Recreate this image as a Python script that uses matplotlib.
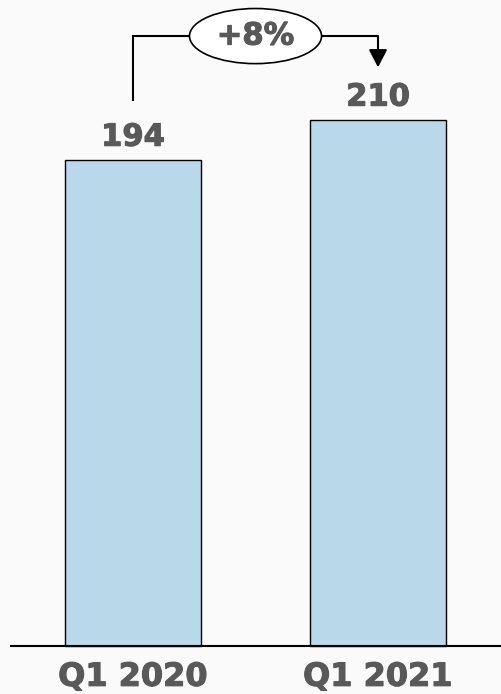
import matplotlib
matplotlib.use("Agg")
import matplotlib.pyplot as plt
import matplotlib.patheffects as pe
from matplotlib.patches import Ellipse

categories = ["Q1 2020", "Q1 2021"]
values = [194, 210]
change_label = "+8%"

BG = "#fafafa"
BAR = "#b9d8ea"
TXT = "#595959"
FONT = "DejaVu Sans"
HEAVY = [pe.withStroke(linewidth=0.8, foreground=TXT)]

fig = plt.figure(figsize=(5.01, 6.94), dpi=100, facecolor=BG)
ax = fig.add_axes([0, 0, 1, 1], facecolor=BG)

x = list(range(len(categories)))
ax.bar(x, values, width=0.555, color=BAR, edgecolor="black", linewidth=1.0, zorder=2)

ax.set_xlim(-0.543, 1.502)
ax.set_ylim(-19.16, 257.9)
ax.axis("off")

# baseline
ax.plot([-0.498, 1.502], [0, 0], color="black", linewidth=1.5, zorder=3)

# value labels
for xi, v in zip(x, values):
    ax.annotate(f"{v}", (xi, v), xytext=(0, 6), textcoords="offset points",
                ha="center", va="bottom", fontsize=22, fontweight="bold",
                color=TXT, family=FONT, path_effects=HEAVY)

# category labels
for xi, c in zip(x, categories):
    ax.text(xi, -12.5, c, ha="center", va="center", fontsize=23,
            fontweight="bold", color=TXT, family=FONT, path_effects=HEAVY)

# growth connector
y_top = 243.5
mid = (x[0] + x[1]) / 2
ell_w, ell_h = 0.539, 22
ax.plot([x[0], x[0], mid - ell_w / 2], [218, y_top, y_top], color="black",
        linewidth=1.5, zorder=3, solid_joinstyle="miter")
ax.annotate("", xy=(x[1], 231), xytext=(mid + ell_w / 2, y_top),
            arrowprops=dict(arrowstyle="-|>,head_length=1.08,head_width=0.56",
                            color="black", linewidth=1.5,
                            connectionstyle="angle,angleA=0,angleB=90,rad=0",
                            shrinkA=0, shrinkB=0), zorder=3)
ax.add_patch(Ellipse((mid, y_top), ell_w, ell_h, facecolor="white",
                     edgecolor="black", linewidth=1.2, zorder=4))
ax.text(mid, y_top, change_label, ha="center", va="center", fontsize=22,
        fontweight="bold", color=TXT, family=FONT, zorder=5, path_effects=HEAVY)

fig.savefig("out.png", dpi=100, facecolor=BG)
